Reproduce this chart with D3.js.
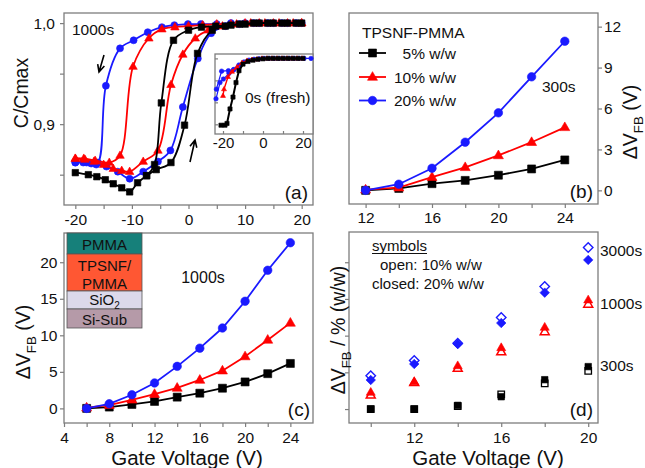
<!DOCTYPE html>
<html><head><meta charset="utf-8">
<script src="https://cdn.jsdelivr.net/npm/d3@7"></script>
<style>body{margin:0;background:#fff}</style>
</head><body><svg id="c" width="645" height="468" xmlns="http://www.w3.org/2000/svg"></svg>
<script>
// ---------- DATA ----------
// Panel (a): C/Cmax hysteresis, 1000s (forward and reverse sweeps) [V, C]
const aBlackFwd = [[-20,0.852],[-17.7,0.850],[-16.2,0.848],[-14.7,0.845],[-13.3,0.841],[-11.8,0.837],[-10.4,0.833],[-9,0.842],[-7.4,0.849],[-5.7,0.855],[-3.1,0.862],[-0.7,0.899],[1.6,0.970],[4.2,0.993],[6.5,0.997],[9,0.999],[11.5,1.0],[14,1.0],[16.5,1.0],[19,1.0]];
const aBlackRev = [[20,1.0],[17.5,1.0],[15,1.0],[12.5,1.0],[10,0.999],[7.5,0.998],[4.8,0.997],[2.3,0.996],[0,0.993],[-2.65,0.983],[-4.8,0.921],[-6.0,0.860],[-7.4,0.849]];
const aRedFwd = [[-20,0.866],[-18.3,0.865],[-16.7,0.863],[-15,0.860],[-13.3,0.856],[-11.8,0.854],[-10.4,0.853],[-8,0.863],[-5.4,0.874],[-3.1,0.939],[-1,0.969],[1.2,0.985],[3.5,0.993],[6,0.997],[8.5,0.999],[11,1.0],[13.5,1.0],[16,1.0],[18.5,1.0],[20,1.0]];
const aRedRev = [[20,1.0],[17.5,1.0],[15,1.0],[12.5,1.0],[10,1.0],[7.5,0.999],[5,0.999],[2.5,0.998],[0,0.997],[-2.4,0.996],[-4.7,0.994],[-7,0.985],[-9.8,0.957],[-12.1,0.869],[-14,0.862],[-16.5,0.864],[-18.5,0.866],[-20,0.866]];
const aBlueFwd = [[-20,0.862],[-18,0.862],[-16.3,0.860],[-14.5,0.858],[-12.5,0.853],[-10.4,0.846],[-8,0.853],[-5.4,0.863],[-3.2,0.874],[-1.0,0.917],[1.65,0.965],[4.0,0.990],[6.5,0.997],[9,0.999],[11.5,1.0],[14,1.0],[16.5,1.0],[19,1.0]];
const aBlueRev = [[20,1.0],[17.5,1.0],[15,1.0],[12.5,1.0],[10,1.0],[7.5,1.0],[5,0.999],[2.2,0.999],[-0.1,0.999],[-2.5,0.998],[-4.7,0.996],[-7.2,0.991],[-9.7,0.983],[-12.1,0.975],[-14.6,0.938],[-16.0,0.862],[-17.2,0.861],[-18.6,0.862],[-20,0.862]];
// Inset (a): 0s fresh
const inBlack = [[-21,0.848],[-19,0.848],[-18,0.852],[-16.5,0.885],[-15,0.912],[-13.5,0.945],[-12,0.972],[-10,0.987],[-7.5,0.993],[-5,0.996],[-2.5,0.998],[0,0.999],[2.5,1],[5,1],[7.5,1],[10,1],[12.5,1],[15,1],[17.5,1],[20,1]];
const inRed = [[-20,0.915],[-19.5,0.93],[-17.5,0.958],[-15.5,0.97],[-13,0.98],[-10.5,0.99],[-8,0.995],[-5.5,0.997],[-3,0.998],[-0.5,1],[2,1],[4.5,1],[7,1],[9.5,1],[12,1],[14.5,1],[17,1],[19.5,1]];
const inBlueA = [[-23.5,0.908],[-21.5,0.945],[-19.8,0.953],[-17,0.966],[-14.5,0.975],[-12,0.985],[-9.5,0.992],[-7,0.996],[-4.5,0.998],[-2,0.999],[0.5,1],[3,1],[5.5,1],[8,1],[10.5,1],[13,1],[15.5,1],[18,1],[20.5,1],[24,1]];
const inBlueB = [[-23.3,0.93],[-20.7,0.971],[-17.3,0.972],[-14.8,0.974],[-12.5,0.98]];
// Panel (b): 300s
const bX = [12,14,16,18,20,22,24];
const b5 = [0,0.14,0.49,0.73,1.11,1.57,2.23];
const b10 = [0.05,0.2,0.97,1.69,2.56,3.53,4.62];
const b20 = [0,0.45,1.62,3.53,5.68,8.32,10.93];
const bLegend = ["5% w/w","10% w/w","20% w/w"];
// Panel (c): 1000s
const cX = [6,8,10,12,14,16,18,20,22,24];
const c5 = [0,0.18,0.54,0.95,1.54,2.08,2.76,3.62,4.75,6.15];
const c10 = [0.1,0.45,1.18,1.95,2.8,3.89,5.16,7.1,9.37,11.7];
const c20 = [0,0.63,1.86,3.48,5.75,8.24,11.0,14.66,18.9,22.67];
// Panel (d): ΔVFB per %(w/w)
const dX = [10,12,14,16,18,20];
const d300open = [0,0,0.02,0.1,0.175,0.26];
const d300closed = [0,0,0.025,0.084,0.2,0.289];
const d1000open = [0.095,0.18,0.277,0.39,0.527,0.714];
const d1000closed = [0.114,0.186,0.295,0.418,0.557,0.743];
const d3000open = [0.227,0.33,0.448,0.623,0.834,1.1];
const d3000closed = [0.198,0.307,0.443,0.586,0.793,1.016];
// Tick values
const aXTicks = [-20,-15,-10,-5,0,5,10,15,20];
const aYTicks = [0.85,0.9,0.95,1.0];
const inXTicks = [-20,-10,0,10,20];
const inYTicks = [0.85,0.9,0.95,1.0];
const bXTicks = [12,14,16,18,20,22,24];
const bYTicks = [0,3,6,9,12];
const cXTicks = [4,6,8,10,12,14,16,18,20,22,24];
const cYTicks = [0,5,10,15,20];
const dXTicks = [10,12,14,16,18,20];
const dYTicks = [0,0.25,0.5,0.75,1.0];

// ---------- DRAWING ----------
const svg = d3.select("#c");
const FONT = '"Liberation Sans", Arial, Helvetica, sans-serif';
const FRAME = "#7d7d7d";
const BLACK = "#000", RED = "#ff0000", BLUE = "#1a1aff";

function makePanel(px0, px1, py0, py1, xd, yd) {
  const x = d3.scaleLinear().domain(xd).range([px0, px1]);
  const y = d3.scaleLinear().domain(yd).range([py1, py0]);
  const g = svg.append("g");
  return {x, y, g, px0, px1, py0, py1};
}
function frame(p, fill) {
  p.g.append("rect").attr("x", p.px0).attr("y", p.py0)
    .attr("width", p.px1 - p.px0).attr("height", p.py1 - p.py0)
    .attr("fill", fill || "none").attr("stroke", FRAME).attr("stroke-width", 1.3);
}
function axis(p, orient, values, fmt, size, fs, pad) {
  let ax, tr;
  if (orient === "bottom") { ax = d3.axisBottom(p.x); tr = `translate(0,${p.py1})`; }
  else if (orient === "left") { ax = d3.axisLeft(p.y); tr = `translate(${p.px0},0)`; }
  else { ax = d3.axisRight(p.y); tr = `translate(${p.px1},0)`; }
  ax.tickValues(values).tickFormat(fmt).tickSizeInner(size).tickSizeOuter(0).tickPadding(pad);
  const a = p.g.append("g").attr("transform", tr).call(ax);
  a.select(".domain").remove();
  a.selectAll("line").attr("stroke", FRAME).attr("stroke-width", 1.2);
  a.selectAll("text").attr("font-family", FONT).attr("font-size", fs).attr("fill", "#111");
  return a;
}
function shapePath(type, s) {
  if (type === "square") return `M${-s/2},${-s/2}h${s}v${s}h${-s}Z`;
  if (type === "triangle") { const h = s * Math.sqrt(3) / 2; return `M0,${-h*0.62}L${s/2},${h*0.38}L${-s/2},${h*0.38}Z`; }
  if (type === "diamond") return `M0,${-s/2}L${s/2},0L0,${s/2}L${-s/2},0Z`;
  const r = s / 2; return `M${r},0A${r},${r} 0 1,1 ${-r},0A${r},${r} 0 1,1 ${r},0Z`;
}
function marks(g, pts, type, s, color, open, sw) {
  g.selectAll(null).data(pts).enter().append("path")
    .attr("d", shapePath(type, s))
    .attr("transform", d => `translate(${d[0]},${d[1]})`)
    .attr("fill", open ? "#fff" : color)
    .attr("fill-opacity", open ? 0 : 1)
    .attr("stroke", color).attr("stroke-width", open ? (sw || 1.4) : 0.6);
}
function series(p, data, color, type, s, lw, curve) {
  const pts = data.map(d => [p.x(d[0]), p.y(d[1])]);
  const line = d3.line();
  if (curve) line.curve(curve);
  p.g.append("path").attr("d", line(pts)).attr("fill", "none")
    .attr("stroke", color).attr("stroke-width", lw);
  marks(p.g, pts, type, s, color, false);
}
function text(g, x, y, str, fs, anchor, extra) {
  const t = g.append("text").attr("x", x).attr("y", y).attr("font-family", FONT)
    .attr("font-size", fs).attr("fill", "#111").attr("text-anchor", anchor || "start").text(str);
  return t;
}
function subLabel(g, x, y, rot, parts, fs, anchor) {
  // parts: [[string, isSub]]
  const t = g.append("text").attr("font-family", FONT).attr("font-size", fs).attr("fill", "#111")
    .attr("text-anchor", anchor || "middle")
    .attr("transform", `translate(${x},${y}) rotate(${rot})`);
  let prevSub = false;
  parts.forEach(([s, sub]) => {
    const ts = t.append("tspan").text(s);
    if (sub && !prevSub) ts.attr("dy", fs * 0.3).attr("font-size", fs * 0.68);
    if (!sub && prevSub) ts.attr("dy", -fs * 0.3);
    prevSub = sub;
  });
  return t;
}
function arrow(g, x1, y1, x2, y2) {
  const ang = Math.atan2(y2 - y1, x2 - x1), L = 8, A = 0.45;
  const p = `M${x1},${y1}L${x2},${y2}M${x2 - L*Math.cos(ang - A)},${y2 - L*Math.sin(ang - A)}L${x2},${y2}L${x2 - L*Math.cos(ang + A)},${y2 - L*Math.sin(ang + A)}`;
  g.append("path").attr("d", p).attr("fill", "none").attr("stroke", "#000").attr("stroke-width", 1.6);
}

// ---- Panel (a)
const pa = makePanel(64, 313, 13, 205, [-22, 22], [0.82, 1.01]);
frame(pa, "#fff");
axis(pa, "bottom", aXTicks, d => (d % 10 === 0 ? d : ""), 4, 15.5, 5);
axis(pa, "left", aYTicks, d => (Math.abs(d - 1) < 1e-9 ? "1,0" : Math.abs(d - 0.9) < 1e-9 ? "0,9" : ""), 4, 15.5, 5);
const cr = d3.curveCatmullRom.alpha(0.5);
series(pa, aBlueFwd, BLUE, "circle", 7, 1.8, cr);
series(pa, aBlueRev, BLUE, "circle", 7, 1.8, cr);
series(pa, aRedFwd, RED, "triangle", 8.5, 1.8, cr);
series(pa, aRedRev, RED, "triangle", 8.5, 1.8, cr);
series(pa, aBlackFwd, BLACK, "square", 6.5, 1.8, cr);
series(pa, aBlackRev, BLACK, "square", 6.5, 1.8, cr);
text(pa.g, 72, 35, "1000s", 15.5);
arrow(pa.g, 104, 55, 99, 72);
arrow(pa.g, 190, 162, 195, 140);
text(pa.g, 308, 199, "(a)", 19, "end");
subLabel(svg, 28, 93, -90, [["C/Cmax", false]], 19.5);

// Inset
const pin = makePanel(215, 313, 54, 134, [-24, 25], [0.828, 1.01]);
frame(pin, "#fff");
axis(pin, "bottom", inXTicks, d => (d % 20 === 0 ? d : ""), -3, 15, 3);
axis(pin, "left", inYTicks, () => "", -3, 12, 2);
series(pin, inBlueA, BLUE, "circle", 4.5, 1.2);
series(pin, inBlueB, BLUE, "circle", 4.5, 1.2);
series(pin, inRed, RED, "triangle", 5, 1.4);
series(pin, inBlack, BLACK, "square", 4.2, 2);
text(pin.g, 245, 103, "0s (fresh)", 15.5);

// ---- Panel (b)
const pb = makePanel(349, 598, 13, 204, [11, 26], [-1, 13]);
frame(pb);
axis(pb, "bottom", bXTicks, d => (d % 4 === 0 ? d : ""), 4, 15.5, 4);
axis(pb, "right", bYTicks, d => d, 4, 15.5, 2);
series(pb, bX.map((v, i) => [v, b5[i]]), BLACK, "square", 8, 1.8);
series(pb, bX.map((v, i) => [v, b10[i]]), RED, "triangle", 10, 1.8);
series(pb, bX.map((v, i) => [v, b20[i]]), BLUE, "circle", 8.5, 1.8);
text(pb.g, 362, 38, "TPSNF-PMMA", 15.5);
const legC = [[BLACK, "square", 8], [RED, "triangle", 10], [BLUE, "circle", 8.5]];
[58.5, 82.5, 106].forEach((yy, i) => {
  pb.g.append("line").attr("x1", 359).attr("x2", 386).attr("y1", yy - 5.5).attr("y2", yy - 5.5)
    .attr("stroke", legC[i][0]).attr("stroke-width", 1.8);
  marks(pb.g, [[372.5, yy - 5.5]], legC[i][1], legC[i][2], legC[i][0], false);
  text(pb.g, 456, yy, bLegend[i], 15.5, "end");
});
text(pb.g, 542, 92, "300s", 15.5);
text(pb.g, 593, 198, "(b)", 19, "end");
subLabel(svg, 637, 122, -90, [["ΔV", false], ["FB", true], [" (V)", false]], 19.5);

// ---- Panel (c)
const pc = makePanel(64, 313, 233, 423, [4, 26], [-2, 24]);
frame(pc);
axis(pc, "bottom", cXTicks, d => (d % 4 === 0 ? d : ""), 4, 15.5, 5);
axis(pc, "left", cYTicks, d => d, 4, 15.5, 2.5);
series(pc, cX.map((v, i) => [v, c5[i]]), BLACK, "square", 8, 1.8);
series(pc, cX.map((v, i) => [v, c10[i]]), RED, "triangle", 10, 1.8);
series(pc, cX.map((v, i) => [v, c20[i]]), BLUE, "circle", 8.5, 1.8);
// layer stack
const layers = [[233, 254, "#16807a"], [254, 291, "#ff5733"], [291, 309, "#dcd9ea"], [309, 328, "#b59aa8"]];
layers.forEach(l => pc.g.append("rect").attr("x", 67).attr("y", l[0]).attr("width", 75).attr("height", l[1] - l[0])
  .attr("fill", l[2]).attr("stroke", "#555").attr("stroke-width", 0.8));
text(pc.g, 104.5, 249.5, "PMMA", 15, "middle");
text(pc.g, 104.5, 270.5, "TPSNF/", 15, "middle");
text(pc.g, 104.5, 288.5, "PMMA", 15, "middle");
const sio = text(pc.g, 104.5, 305, "SiO", 15, "middle");
sio.append("tspan").attr("font-size", 10).attr("dy", 4).text("2");
text(pc.g, 104.5, 324.5, "Si-Sub", 15, "middle");
text(pc.g, 203, 283, "1000s", 16, "middle");
text(pc.g, 310, 416, "(c)", 19, "end");
subLabel(svg, 30, 342, -90, [["ΔV", false], ["FB", true], [" (V)", false]], 19.5);
text(svg, 187, 465, "Gate Voltage (V)", 20.5, "middle");

// ---- Panel (d)
const pd = makePanel(349, 598, 232, 423, [9, 20.45], [-0.095, 1.206]);
frame(pd);
axis(pd, "bottom", dXTicks, d => (d % 4 === 0 ? d : ""), 4, 15.5, 5);
axis(pd, "left", dYTicks, () => "", 4, 12, 2);
const P = (arr) => dX.map((v, i) => [pd.x(v), pd.y(arr[i])]);
marks(pd.g, P(d300open), "square", 6.5, BLACK, true, 1.3);
marks(pd.g, P(d300closed), "square", 6.5, BLACK, false);
marks(pd.g, P(d1000open), "triangle", 9, RED, true, 1.5);
marks(pd.g, P(d1000closed), "triangle", 9, RED, false);
marks(pd.g, P(d3000open), "diamond", 9.5, BLUE, true, 1.4);
marks(pd.g, P(d3000closed), "diamond", 9.5, BLUE, false);
text(pd.g, 372, 251, "symbols", 15);
pd.g.append("line").attr("x1", 372).attr("x2", 427).attr("y1", 253.5).attr("y2", 253.5).attr("stroke", "#111").attr("stroke-width", 1);
text(pd.g, 380, 270, "open: 10% w/w", 15);
text(pd.g, 372, 288.5, "closed: 20% w/w", 15);
text(svg, 600, 255.5, "3000s", 15.5);
text(svg, 600, 308.5, "1000s", 15.5);
text(svg, 600, 370.5, "300s", 15.5);
text(pd.g, 593, 416, "(d)", 19, "end");
subLabel(svg, 345, 330, -90, [["ΔV", false], ["FB", true], [" / % (w/w)", false]], 19.5);
text(svg, 488, 465, "Gate Voltage (V)", 20.5, "middle");
</script></body></html>
